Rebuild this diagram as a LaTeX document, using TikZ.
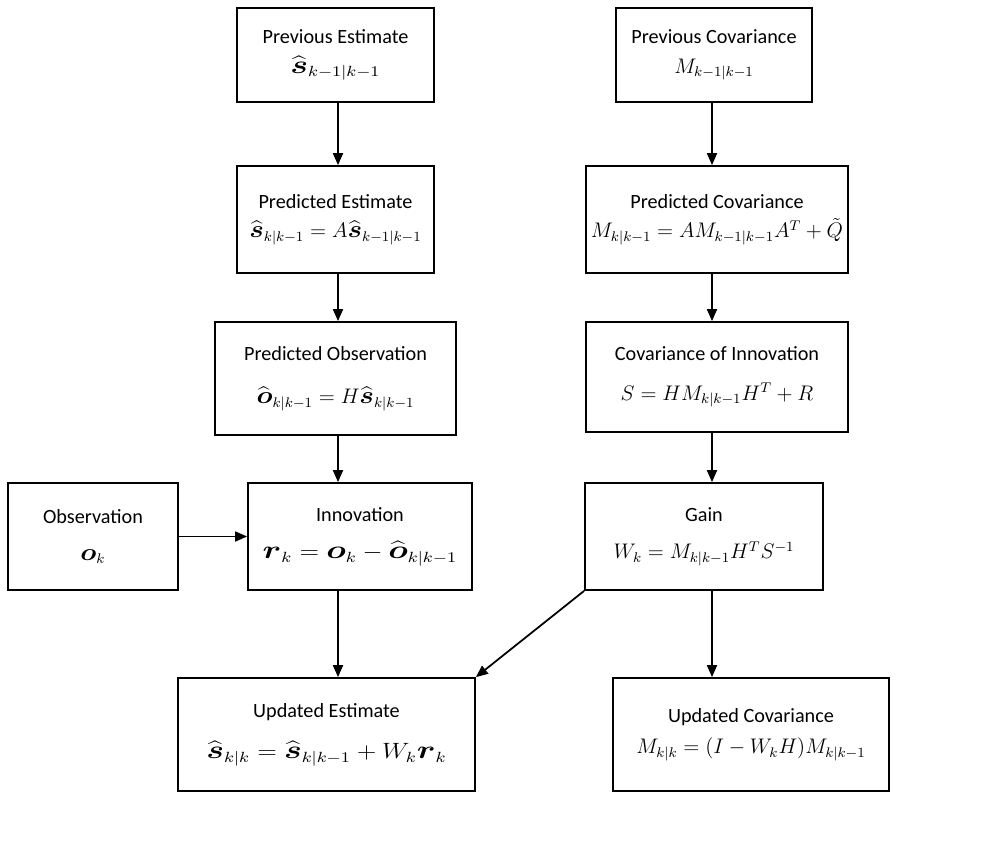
\documentclass[tikz,border=0pt]{standalone}
\usepackage{amsmath,amssymb}
\usepackage{bm}
\usepackage{fontspec}
\setmainfont{Carlito}
\usetikzlibrary{arrows.meta}
\usetikzlibrary{calc}

\newcommand{\kfvec}[1]{\text{\scalebox{1.3}[1.15]{$\bm{#1}$}}}
\newcommand{\kfhat}[1]{\widehat{\kfvec{#1}}}
\newcommand{\kfwide}[1]{\scalebox{1.22}[1.05]{#1}}

\tikzset{
  kfbox/.style={draw, line width=1pt, align=center, inner sep=0pt,
    font=\fontsize{11.5}{13.5}\selectfont},
  kfarrow/.style={line width=1pt, -{Triangle[length=2.4mm,width=2mm]}}
}

\begin{document}
\begin{tikzpicture}[x=0.2mm,y=-0.2mm]
        \newcommand{\figkfpx}{0.2mm}
        \newcommand{\figkfleftx}{338}
        \newcommand{\figkfrightx}{712}
        \useasboundingbox (0,0) rectangle (1008,851);
        % top row
        \node[kfbox, minimum width=197*\figkfpx, minimum height=94*\figkfpx] (prevest) at (335.5,55)
          {Previous Estimate\\[1.2mm]\kfwide{$\kfhat{s}_{k-1|k-1}$}};
        \node[kfbox, minimum width=196*\figkfpx, minimum height=94*\figkfpx] (prevcov) at (714,55)
          {Previous Covariance\\[1.2mm]$M_{k-1|k-1}$};
        % prediction
        \node[kfbox, minimum width=197*\figkfpx, minimum height=107*\figkfpx] (predest) at (335.5,219.5)
          {Predicted Estimate\\[1.2mm]$\kfhat{s}_{k|k-1} = A\kfhat{s}_{k-1|k-1}$};
        \node[kfbox, minimum width=262*\figkfpx, minimum height=107*\figkfpx] (predcov) at (717,219.5)
          {Predicted Covariance\\[1.2mm]$M_{k|k-1} = AM_{k-1|k-1}A^T + \tilde{Q}$};
        \node[kfbox, minimum width=241*\figkfpx, minimum height=113*\figkfpx] (predobs) at (335.5,378.5)
          {Predicted Observation\\[4mm]$\kfhat{o}_{k|k-1} = H\kfhat{s}_{k|k-1}$};
        \node[kfbox, minimum width=262*\figkfpx, minimum height=110*\figkfpx] (covinn) at (717,377)
          {Covariance of Innovation\\[3.2mm]$S = HM_{k|k-1}H^T + R$};
        % innovation and gain
        \node[kfbox, minimum width=170*\figkfpx, minimum height=107*\figkfpx] (obs) at (93,536.5)
          {Observation\\[2.8mm]$\kfvec{o}_k$};
        \node[kfbox, minimum width=224*\figkfpx, minimum height=107*\figkfpx] (innov) at (360,536.5)
          {Innovation\\[2.8mm]\kfwide{$\kfvec{r}_k = \kfvec{o}_k - \kfhat{o}_{k|k-1}$}};
        \node[kfbox, minimum width=238*\figkfpx, minimum height=107*\figkfpx] (gain) at (704,536.5)
          {Gain\\[2.8mm]$W_k = M_{k|k-1}H^TS^{-1}$};
        % update
        \node[kfbox, minimum width=297*\figkfpx, minimum height=113*\figkfpx] (updest) at (326.5,734.5)
          {Updated Estimate\\[3.6mm]\kfwide{$\kfhat{s}_{k|k} = \kfhat{s}_{k|k-1} + W_k\kfvec{r}_k$}};
        \node[kfbox, minimum width=276*\figkfpx, minimum height=113*\figkfpx] (updcov) at (751,734.5)
          {Updated Covariance\\[1.6mm]$M_{k|k} = (I - W_kH)M_{k|k-1}$};
        % connectors
        \draw[kfarrow] (prevest.south -| \figkfleftx,0) -- (predest.north -| \figkfleftx,0);
        \draw[kfarrow] (predest.south -| \figkfleftx,0) -- (predobs.north -| \figkfleftx,0);
        \draw[kfarrow] (predobs.south -| \figkfleftx,0) -- (innov.north -| \figkfleftx,0);
        \draw[kfarrow] (innov.south -| \figkfleftx,0) -- (updest.north -| \figkfleftx,0);
        \draw[kfarrow] (prevcov.south -| \figkfrightx,0) -- (predcov.north -| \figkfrightx,0);
        \draw[kfarrow] (predcov.south -| \figkfrightx,0) -- (covinn.north -| \figkfrightx,0);
        \draw[kfarrow] (covinn.south -| \figkfrightx,0) -- (gain.north -| \figkfrightx,0);
        \draw[kfarrow] (gain.south -| \figkfrightx,0) -- (updcov.north -| \figkfrightx,0);
        \draw[kfarrow] (obs.east) -- (innov.west);
        \draw[kfarrow] (gain.south west) -- (updest.north east);
\end{tikzpicture}
\end{document}
